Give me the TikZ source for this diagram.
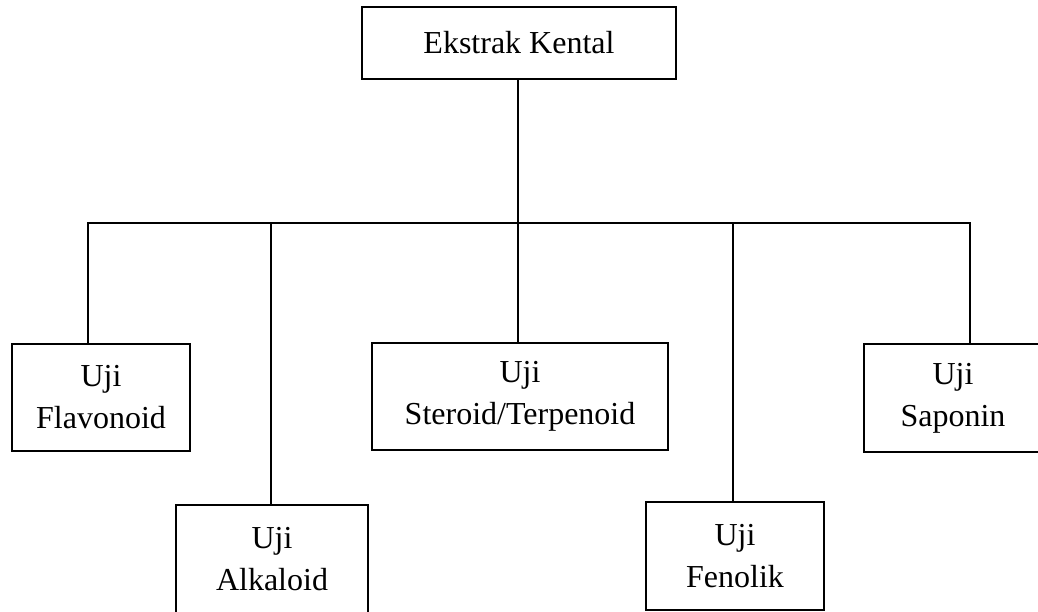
\documentclass[tikz,border=0pt]{standalone}
\usepackage{fontspec}
\setmainfont{Liberation Serif}
\begin{document}
\begin{tikzpicture}[x=1pt,y=-1pt,
  line width=1.4pt,
  box/.style={draw, rectangle, inner sep=0pt, align=center,
    font=\fontsize{32}{42}\selectfont}]
\useasboundingbox (0,0) rectangle (1038,612);

% boxes
\node[box, minimum width=314, minimum height=72] (top) at (519,43) {Ekstrak Kental};
\node[box, minimum width=178, minimum height=107] (fla) at (101,397.5) {Uji\\Flavonoid};
\node[box, minimum width=192, minimum height=108] (alk) at (272,559) {Uji\\Alkaloid};
\node[box, minimum width=296, minimum height=107] (ste) at (520,396.5) {Uji\\Steroid/Terpenoid};
\node[box, minimum width=178, minimum height=108] (fen) at (735,556) {Uji\\Fenolik};
\node[box, minimum width=178, minimum height=108] (sap) at (953,398) {Uji\\Saponin};

% stem positions and the horizontal bus
\coordinate (bus) at (518,223);
\coordinate (flaX) at (88,0);
\coordinate (alkX) at (271,0);
\coordinate (fenX) at (733,0);
\coordinate (sapX) at (970,0);

\draw (top.south -| bus) -- (ste.north -| bus);
\draw (fla.north -| flaX) |- (bus) -| (sap.north -| sapX);
\draw (alk.north -| alkX) -- (bus -| alkX);
\draw (fen.north -| fenX) -- (bus -| fenX);
\end{tikzpicture}
\end{document}
